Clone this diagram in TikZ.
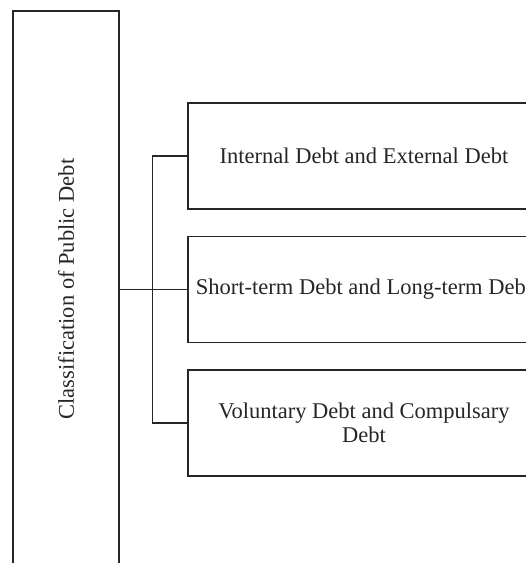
\documentclass[tikz,border=0pt]{standalone}
\usepackage{fontspec}
\setmainfont{Liberation Serif}
\usetikzlibrary{positioning}

\begin{document}
\begin{tikzpicture}[x=1pt,y=-1pt,line width=1.5pt,draw=black!85,
  txt/.style={font=\fontsize{22.5}{24}\selectfont,text=black!85},
  rootbox/.style={draw,txt,minimum width=106pt,minimum height=556pt,inner sep=0pt},
  catbox/.style={draw,txt,minimum width=352pt,minimum height=106pt,align=center,inner sep=2pt}]
  % Page frame (the figure is cut off at right and bottom)
  \clip (0,0) rectangle (526,563);

  % Root box, label reads bottom to top
  \node[rootbox] (root) at (66,289) {\rotatebox{90}{Classification of Public Debt}};

  % Three categories of debt
  \node[catbox] (inext) at (364,156) {Internal Debt and External Debt};
  \node[catbox,below=26pt of inext] (shortlong) {Short-term Debt and Long-term Debt};
  \node[catbox,below=26pt of shortlong] (volcomp) {Voluntary Debt and Compulsary\\Debt};

  % Connectors
  \draw (root.east |- shortlong.west) -- (shortlong.west);
  \draw (inext.west) -- ++(-35,0) |- (volcomp.west);

\end{tikzpicture}
\end{document}
